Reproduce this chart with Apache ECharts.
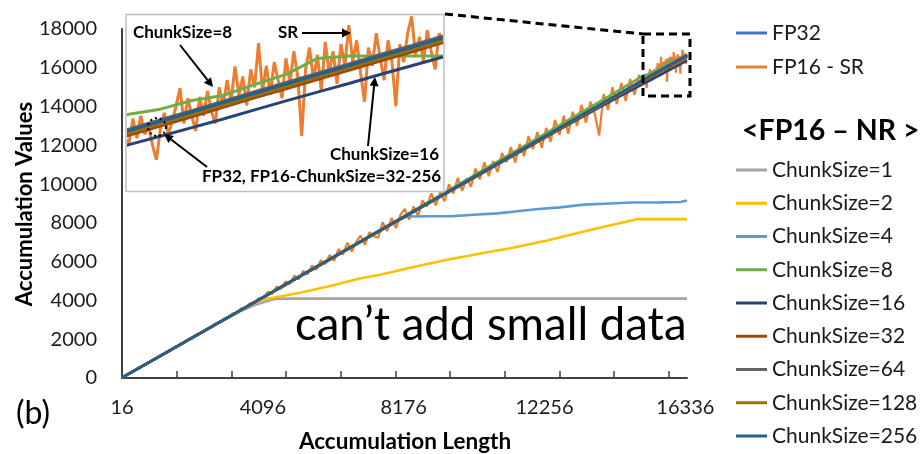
<!DOCTYPE html>
<html>
<head>
<meta charset="utf-8">
<script src="https://cdn.jsdelivr.net/npm/echarts@6/dist/echarts.min.js"></script>
<style>
  html, body { margin: 0; padding: 0; background: #ffffff; }
  #chart { width: 924px; height: 454px; }
</style>
</head>
<body>
<div id="chart"></div>
<script>
// ---- Axis labels / ticks ----
const xLabelValues = [16, 4096, 8176, 12256, 16336];
const xTickValues = [1600, 3184, 4768, 6352, 7936, 9520, 11104, 12688, 14272, 15856];

// ---- Accumulation lengths shared by the smooth curves ----
const lengthsSmooth = [16, 1024, 2048, 3072, 4096, 5120, 6144, 7168, 8192, 9216, 10240, 11264, 12288, 13312, 14336,
  15104, 15232, 15360, 15488, 15616, 15744, 15872, 16000, 16128, 16256, 16384];

const fp32   = [16, 1035, 2075, 3110, 4150, 5195, 6235, 7280, 8315, 9355, 10395, 11440, 12480, 13520, 14560,
  15345, 15470, 15598, 15728, 15858, 15984, 16112, 16240, 16368, 16492, 16620];
const cs8    = [16, 1036, 2078, 3114, 4158, 5205, 6252, 7300, 8345, 9410, 10475, 11545, 12615, 13690, 14760,
  15580, 15650, 15770, 15840, 15990, 16130, 16350, 16384, 16384, 16384, 16384];
const cs16   = [16, 1034, 2074, 3108, 4148, 5192, 6232, 7275, 8305, 9330, 10350, 11385, 12410, 13430, 14440,
  15160, 15275, 15395, 15515, 15640, 15765, 15885, 16005, 16128, 16250, 16370];
const cs32   = [16, 1030, 2068, 3100, 4140, 5180, 6215, 7260, 8290, 9330, 10365, 11405, 12440, 13475, 14510,
  15290, 15415, 15545, 15675, 15805, 15930, 16058, 16188, 16315, 16440, 16570];
const cs64   = [16, 1038, 2080, 3118, 4160, 5205, 6248, 7292, 8330, 9372, 10415, 11460, 12505, 13548, 14590,
  15375, 15505, 15630, 15760, 15892, 16018, 16148, 16275, 16405, 16530, 16660];
const cs128  = [16, 1033, 2072, 3106, 4146, 5190, 6228, 7272, 8305, 9345, 10382, 11425, 12465, 13500, 14540,
  15325, 15450, 15578, 15708, 15838, 15962, 16092, 16220, 16348, 16472, 16600];
const cs256  = [16, 1036, 2077, 3113, 4154, 5198, 6240, 7284, 8320, 9360, 10400, 11446, 12488, 13528, 14568,
  15355, 15482, 15610, 15740, 15870, 15995, 16125, 16252, 16380, 16505, 16635];

// ---- Curves that stall, as [length, value] ----
const cs1 = [[16, 16], [1024, 1032], [2048, 2068], [2800, 2830], [3400, 3400], [3800, 3720], [4070, 3880],
  [4300, 4010], [4520, 4096], [16384, 4096]];
const cs2 = [[16, 16], [1024, 1034], [2048, 2072], [3072, 3108], [3700, 3740], [4096, 4060], [4400, 4140],
  [5170, 4400], [6140, 4780], [6900, 5130], [7490, 5330], [8400, 5700], [9430, 6100], [10400, 6420],
  [11340, 6720], [12300, 7080], [13280, 7500], [14100, 7850], [14930, 8192], [16384, 8192]];
const cs4 = [[16, 16], [1024, 1034], [2048, 2073], [3072, 3109], [4096, 4149], [5120, 5192], [6144, 6232],
  [7168, 7276], [8150, 8280], [8360, 8330], [8940, 8340], [9600, 8350], [10200, 8420], [10900, 8490],
  [11400, 8590], [12000, 8700], [12700, 8800], [13400, 8940], [14000, 8990], [14800, 9050], [15600, 9060],
  [16200, 9075], [16384, 9160]];

// ---- FP16 with stochastic rounding ----
// sampled every 128 up to 14992, then every 16 over the last stretch
const srCoarse = [16, 150, 272, 412, 534, 672, 792, 935, 1052, 1198, 1310, 1462, 1570, 1725, 1828, 1990,
  2085, 2262, 2345, 2520, 2600, 2790, 2860, 3050, 3115, 3320, 3375, 3590, 3630, 3850, 3880, 4120,
  4080, 4450, 4330, 4720, 4600, 4980, 4850, 5280, 5090, 5520, 5350, 5800, 5580, 6080, 5880, 6350,
  6040, 6650, 6370, 6970, 6520, 7030, 7340, 6870, 7520, 7310, 7240, 8040, 7570, 8250, 7730, 8410,
  8720, 8170, 8850, 8350, 9160, 8840, 9520, 8900, 9580, 9110, 9990, 9520, 10320, 9650, 10310, 9870,
  10800, 10250, 11130, 10410, 11190, 10620, 11600, 11130, 11910, 11110, 12070, 11450, 12480, 11810, 12690, 11870,
  12900, 12180, 13310, 12540, 13520, 12600, 13730, 13010, 14090, 13170, 14250, 13630, 12510, 14640, 13820, 15000,
  14130, 15210, 14290, 15420, 14600, 15630];
const srFine = [15180, 15520, 15250, 15560, 15300, 15420, 15150, 14950, 15380, 15600, 15300, 15480, 15700, 15940,
  15450, 15800, 15550, 15350, 15820, 15560, 15900, 15620, 15450, 15950, 15700, 16050, 15750, 16240, 15850,
  16100, 15700, 16200, 15950, 16560, 15900, 16250, 15850, 16300, 16050, 15800, 16350, 16000, 16450, 16100,
  15280, 16200, 16500, 16050, 16400, 15900, 16580, 16150, 16450, 16000, 16550, 16250, 16810, 16300, 16600,
  16150, 15750, 16500, 16250, 16700, 16350, 16050, 16600, 16300, 15690, 16550, 16300, 16700, 16930, 16400,
  16650, 16300, 16740, 16450, 16200, 16700, 16550];

const srCoarseStart = 16, srCoarseStep = 128;
const srFineStart = 15104, srFineStep = 16;
const sr = srCoarse.map((v, i) => [srCoarseStart + i * srCoarseStep, v])
  .concat(srFine.map((v, i) => [srFineStart + i * srFineStep, v]));

const zip = (xs, ys) => xs.map((x, i) => [x, ys[i]]);

// drawing order: FP32, SR, then chunk sizes
const lines = [
  { name: 'FP32',          color: '#4472C4', data: zip(lengthsSmooth, fp32) },
  { name: 'FP16 - SR',     color: '#ED7D31', data: sr },
  { name: 'ChunkSize=1',   color: '#A5A5A5', data: cs1 },
  { name: 'ChunkSize=2',   color: '#FFC000', data: cs2 },
  { name: 'ChunkSize=4',   color: '#5B9BD5', data: cs4 },
  { name: 'ChunkSize=8',   color: '#70AD47', data: zip(lengthsSmooth, cs8) },
  { name: 'ChunkSize=16',  color: '#264478', data: zip(lengthsSmooth, cs16) },
  { name: 'ChunkSize=32',  color: '#9E480E', data: zip(lengthsSmooth, cs32) },
  { name: 'ChunkSize=64',  color: '#636363', data: zip(lengthsSmooth, cs64) },
  { name: 'ChunkSize=128', color: '#997300', data: zip(lengthsSmooth, cs128) },
  { name: 'ChunkSize=256', color: '#255E91', data: zip(lengthsSmooth, cs256) }
];

const FONT = 'Lato';
const series = [];
lines.forEach(l => {
  series.push({
    type: 'line', name: l.name, data: l.data, xAxisIndex: 0, yAxisIndex: 0,
    showSymbol: false, symbol: 'none', animation: false, clip: true,
    itemStyle: { color: l.color }, lineStyle: { color: l.color, width: l.name === 'FP16 - SR' ? 2.2 : 2.6 }
  });
});
lines.forEach(l => {
  series.push({
    type: 'line', name: l.name, data: l.data, xAxisIndex: 1, yAxisIndex: 1,
    showSymbol: false, symbol: 'none', animation: false, clip: true,
    itemStyle: { color: l.color }, lineStyle: { color: l.color, width: 3 }
  });
});

// arrow made of a segment plus a triangular head at (x2, y2)
function arrow(x1, y1, x2, y2) {
  const a = Math.atan2(y2 - y1, x2 - x1);
  const L = 9, W = 4.5;
  const bx = x2 - L * Math.cos(a), by = y2 - L * Math.sin(a);
  const px = -Math.sin(a), py = Math.cos(a);
  return [
    { type: 'line', shape: { x1, y1, x2: bx, y2: by }, style: { stroke: '#000', lineWidth: 2 }, z: 100 },
    { type: 'polygon', shape: { points: [[x2, y2], [bx + px * W, by + py * W], [bx - px * W, by - py * W]] },
      style: { fill: '#000' }, z: 100 }
  ];
}

const boldLabel = (text, x, y, align, size) => ({
  type: 'text', x, y, z: 100,
  style: { text, fill: '#000', font: 'bold ' + (size || 17) + 'px ' + FONT, align: align || 'left', verticalAlign: 'middle' }
});

const graphics = [
  // inset frame
  { type: 'rect', shape: { x: 126, y: 14.5, width: 318, height: 177 }, style: { fill: 'none', stroke: '#BFBFBF', lineWidth: 1.5 }, z: 50 },
  // zoom region and connector
  { type: 'rect', shape: { x: 643, y: 34, width: 47, height: 62 }, style: { fill: 'none', stroke: '#000', lineWidth: 3, lineDash: [8, 5] }, z: 100 },
  { type: 'line', shape: { x1: 445, y1: 14, x2: 643, y2: 34 }, style: { stroke: '#000', lineWidth: 3, lineDash: [8, 5] }, z: 100 },
  // inset annotations
  boldLabel('ChunkSize=8', 133, 33),
  boldLabel('SR', 278, 33),
  boldLabel('ChunkSize=16', 439, 155, 'right'),
  boldLabel('FP32, FP16-ChunkSize=32-256', 202, 177),
  ...arrow(302, 33, 351, 33),
  ...arrow(180, 45, 213, 87),
  ...arrow(368, 146, 375, 77),
  ...arrow(207, 167, 164, 134),
  { type: 'circle', shape: { cx: 157, cy: 127, r: 9 }, style: { fill: 'none', stroke: '#000', lineWidth: 2, lineDash: [2, 3] }, z: 100 },
  // titles and notes
  { type: 'text', x: 25, y: 204, rotation: Math.PI / 2, z: 100,
    style: { text: 'Accumulation Values', fill: '#000', font: 'bold 22px ' + FONT, align: 'center', verticalAlign: 'middle' } },
  { type: 'text', x: 405, y: 442, z: 100,
    style: { text: 'Accumulation Length', fill: '#000', font: 'bold 22.5px ' + FONT, align: 'center', verticalAlign: 'middle' } },
  { type: 'text', x: 33, y: 414, z: 100,
    style: { text: '(b)', fill: '#000', font: '32px ' + FONT, align: 'center', verticalAlign: 'middle' } },
  { type: 'text', x: 295, y: 325, z: 100,
    style: { text: 'can\u2019t add small data', fill: '#000', font: '45.5px ' + FONT, align: 'left', verticalAlign: 'middle' } },
  { type: 'text', x: 742, y: 131, z: 100,
    style: { text: '<FP16 \u2013 NR >', fill: '#000', font: 'bold 28.5px ' + FONT, align: 'left', verticalAlign: 'middle' } }
];

const legendText = { fontSize: 21, lineHeight: 24, fontFamily: FONT, color: '#1a1a1a' };
const plain = v => String(v);

const option = {
  animation: false,
  backgroundColor: '#ffffff',
  textStyle: { fontFamily: FONT },
  grid: [
    { left: 122, top: 29, width: 565, height: 349 },
    { left: 129, top: 15, width: 314, height: 176 }
  ],
  xAxis: [
    {
      type: 'value', gridIndex: 0, min: 16, max: 16384,
      axisLine: { show: true, onZero: false, lineStyle: { color: '#404040', width: 2 } },
      axisTick: { show: true, inside: true, length: 7, customValues: xTickValues, lineStyle: { color: '#404040', width: 1.5 } },
      axisLabel: { customValues: xLabelValues, formatter: plain, fontSize: 20, fontFamily: FONT, color: '#1a1a1a', margin: 20 },
      splitLine: { show: false }
    },
    { type: 'value', gridIndex: 1, min: 15104, max: 16384, show: false, splitLine: { show: false } }
  ],
  yAxis: [
    {
      type: 'value', gridIndex: 0, min: 0, max: 18000, interval: 2000,
      axisLine: { show: true, lineStyle: { color: '#404040', width: 2 } },
      axisTick: { show: false },
      axisLabel: { formatter: plain, fontSize: 20, fontFamily: FONT, color: '#1a1a1a', margin: 25 },
      splitLine: { show: false }
    },
    { type: 'value', gridIndex: 1, min: 14520, max: 16950, show: false, splitLine: { show: false } }
  ],
  legend: [
    {
      data: ['FP32', 'FP16 - SR'], orient: 'vertical', left: 736, top: 21, padding: 0, itemGap: 10,
      icon: 'rect', itemWidth: 31, itemHeight: 3, selectedMode: false, textStyle: legendText
    },
    {
      data: ['ChunkSize=1', 'ChunkSize=2', 'ChunkSize=4', 'ChunkSize=8', 'ChunkSize=16', 'ChunkSize=32',
        'ChunkSize=64', 'ChunkSize=128', 'ChunkSize=256'],
      orient: 'vertical', left: 736, top: 158, padding: 0, itemGap: 9.25,
      icon: 'rect', itemWidth: 31, itemHeight: 3, selectedMode: false, textStyle: legendText
    }
  ],
  series,
  graphic: graphics
};

const chart = echarts.init(document.getElementById('chart'), null, { renderer: 'canvas' });
chart.setOption(option);
</script>
</body>
</html>
